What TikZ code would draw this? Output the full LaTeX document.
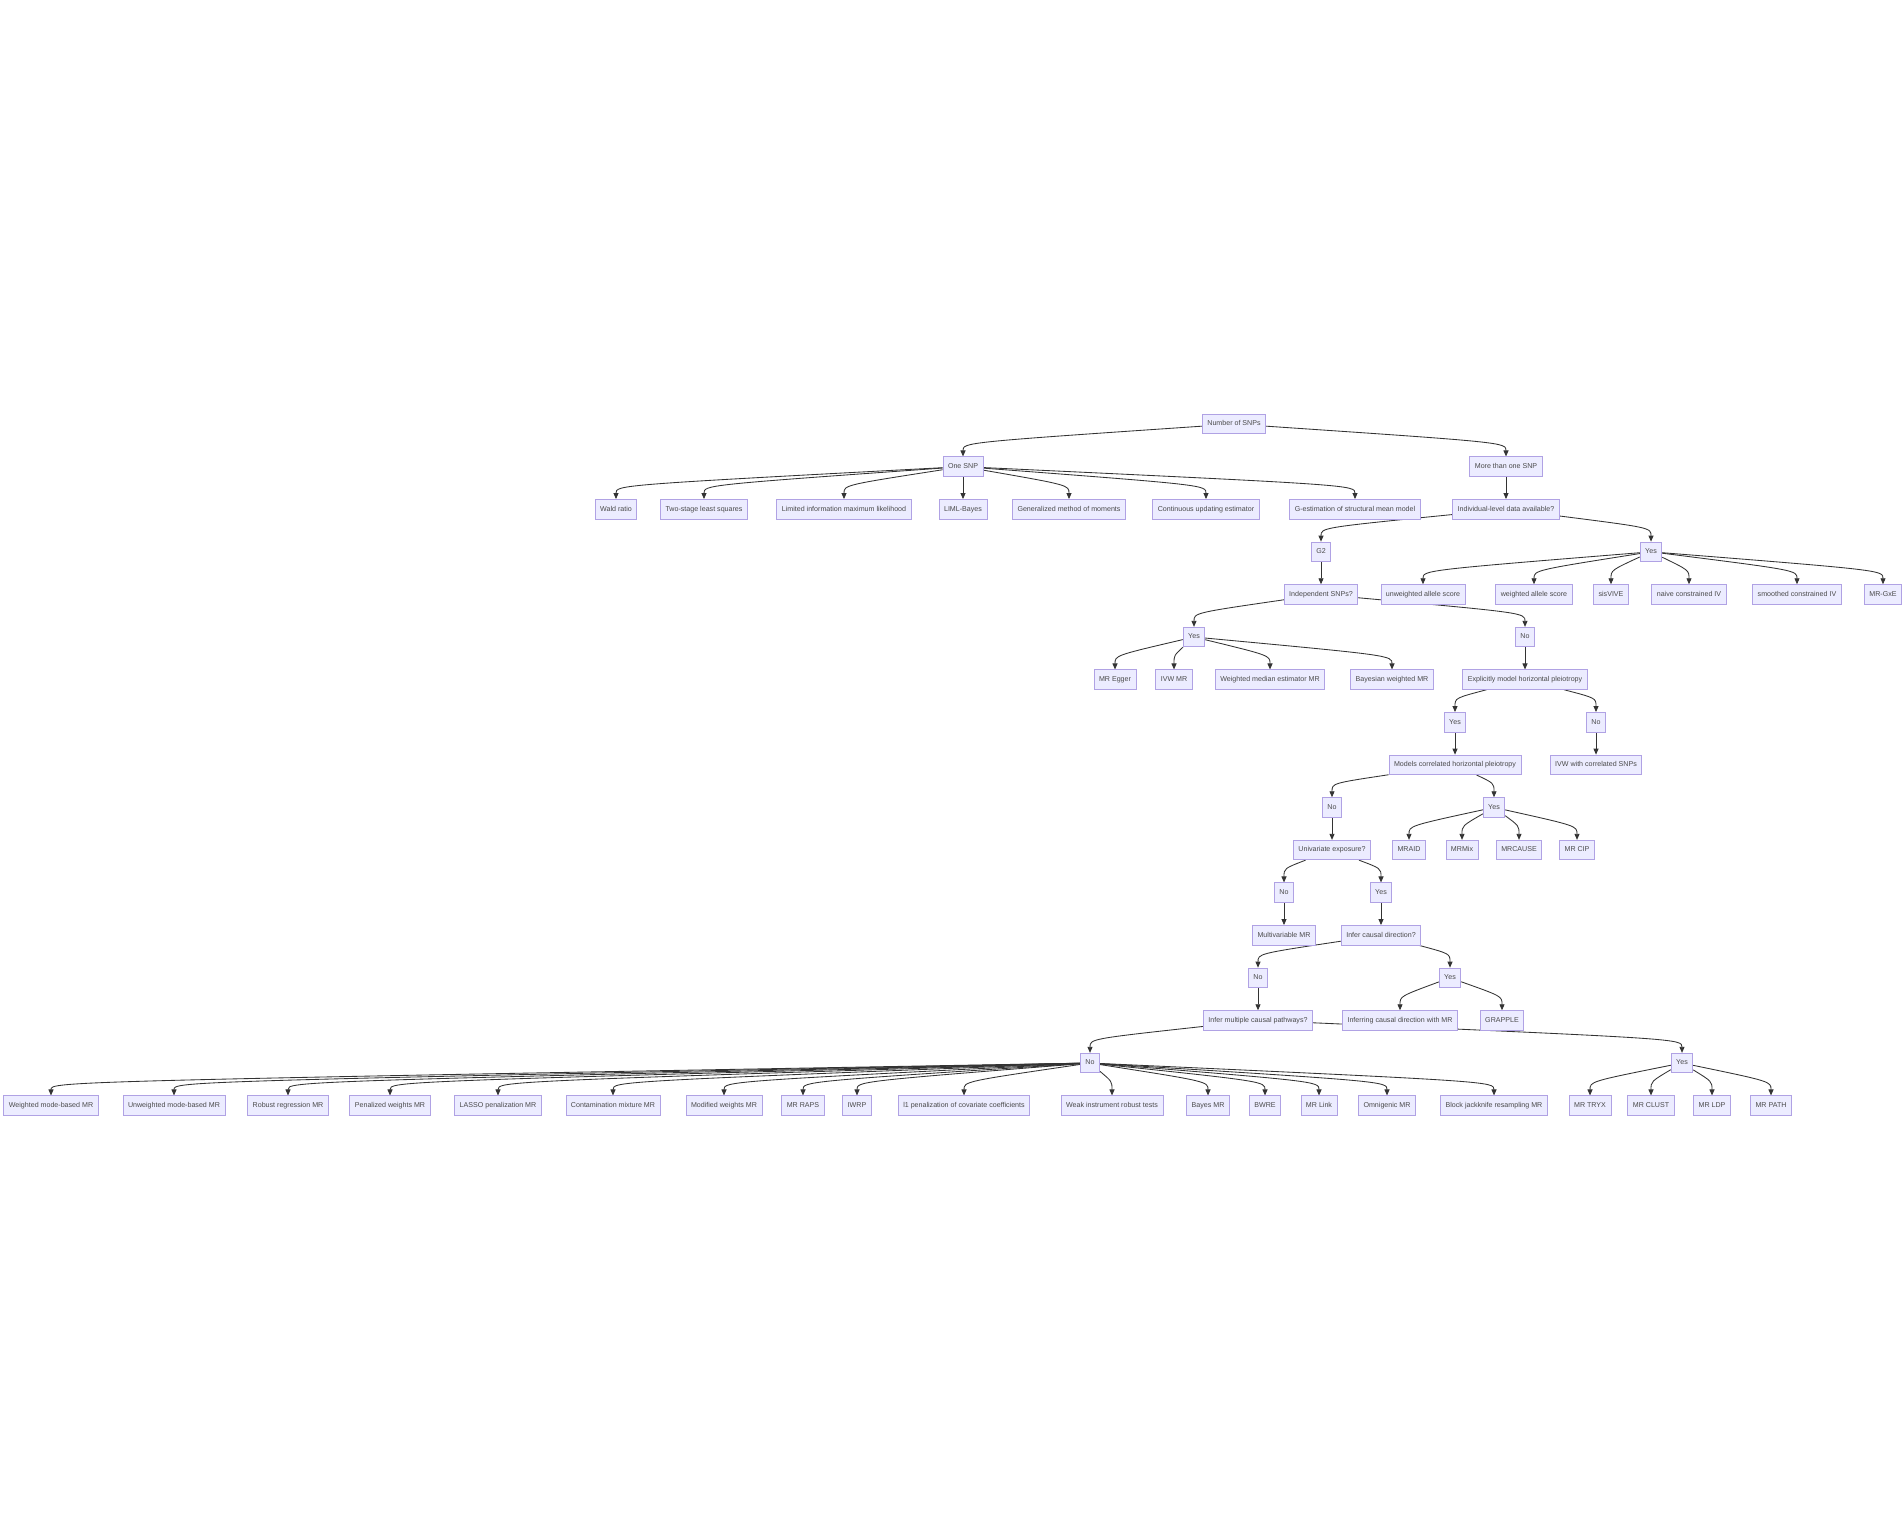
\documentclass[tikz,border=0pt]{standalone}
\usepackage{fontspec}
\setmainfont{Liberation Sans}
\usetikzlibrary{arrows.meta,backgrounds}
\definecolor{boxfill}{HTML}{ECECFF}
\definecolor{boxline}{HTML}{B0A2E4}
\definecolor{linecol}{HTML}{333333}
\definecolor{txtcol}{HTML}{4A4A4A}

\begin{document}
\begin{tikzpicture}
  [x=1pt,y=-1pt,
   box/.style={draw=boxline,fill=boxfill,text=txtcol,line width=0.8pt,
     font=\fontsize{7.1}{8.5}\selectfont,inner xsep=5pt,minimum height=19.5pt,
     text height=5.2pt,text depth=1.5pt},
   arr/.style={draw=linecol,line width=0.85pt,-{Triangle[length=6pt,width=5pt]}}]
  \useasboundingbox (0,0) rectangle (1904,1530);
  % first levels
  \node at (1234,424) (snps) [box] {Number of SNPs};
  \node at (963,466.6) (one) [box] {One SNP};
  \node at (1506,466.6) (more) [box] {More than one SNP};
  \node at (616,509.2) (wald) [box] {Wald ratio};
  \node at (704,509.2) (tsls) [box] {Two-stage least squares};
  \node at (844,509.2) (liml) [box] {Limited information maximum likelihood};
  \node at (963,509.2) (limlb) [box] {LIML-Bayes};
  \node at (1069,509.2) (gmm) [box] {Generalized method of moments};
  \node at (1206,509.2) (cue) [box] {Continuous updating estimator};
  \node at (1355,509.2) (gest) [box] {G-estimation of structural mean model};
  \node at (1506,509.2) (indiv) [box] {Individual-level data available?};
  \node at (1321,551.8) (gtwo) [box] {G2};
  \node at (1651,551.8) (yind) [box] {Yes};
  \node at (1321,594.4) (indep) [box] {Independent SNPs?};
  \node at (1423,594.4) (uas) [box] {unweighted allele score};
  \node at (1534,594.4) (was) [box] {weighted allele score};
  \node at (1611,594.4) (sis) [box] {sisVIVE};
  \node at (1689,594.4) (nciv) [box] {naive constrained IV};
  \node at (1797,594.4) (sciv) [box] {smoothed constrained IV};
  \node at (1883,594.4) (gxe) [box] {MR-GxE};
  % independent SNPs
  \node at (1194,637) (yindep) [box] {Yes};
  \node at (1525,637) (nindep) [box] {No};
  \node at (1115,679.6) (egger) [box] {MR Egger};
  \node at (1174,679.6) (ivw) [box] {IVW MR};
  \node at (1270,679.6) (wme) [box] {Weighted median estimator MR};
  \node at (1392,679.6) (bwmr) [box] {Bayesian weighted MR};
  \node at (1525,679.6) (expl) [box] {Explicitly model horizontal pleiotropy};
  \node at (1455,722.2) (yexpl) [box] {Yes};
  \node at (1596,722.2) (nexpl) [box] {No};
  \node at (1455,764.8) (models) [box] {Models correlated horizontal pleiotropy};
  \node at (1596,764.8) (ivwc) [box] {IVW with correlated SNPs};
  \node at (1332,807.4) (nmod) [box] {No};
  \node at (1494,807.4) (ymod) [box] {Yes};
  \node at (1332,850) (univ) [box] {Univariate exposure?};
  \node at (1409,850) (mraid) [box] {MRAID};
  \node at (1462,850) (mrmix) [box] {MRMix};
  \node at (1519,850) (mrcause) [box] {MRCAUSE};
  \node at (1577,850) (mrcip) [box] {MR CIP};
  \node at (1284,892.6) (nuniv) [box] {No};
  \node at (1381,892.6) (yuniv) [box] {Yes};
  \node at (1284,935.2) (mvmr) [box] {Multivariable MR};
  \node at (1381,935.2) (infer) [box] {Infer causal direction?};
  \node at (1258,977.8) (ninf) [box] {No};
  \node at (1450,977.8) (yinf) [box] {Yes};
  \node at (1258,1020.4) (multi) [box] {Infer multiple causal pathways?};
  \node at (1400,1020.4) (icd) [box] {Inferring causal direction with MR};
  \node at (1502,1020.4) (grapple) [box] {GRAPPLE};
  \node at (1090,1063) (nmul) [box] {No};
  \node at (1682,1063) (ymul) [box] {Yes};
  % bottom row
  \node at (51,1105.6) (wmb) [box] {Weighted mode-based MR};
  \node at (174,1105.6) (umb) [box] {Unweighted mode-based MR};
  \node at (288,1105.6) (robust) [box] {Robust regression MR};
  \node at (390,1105.6) (penal) [box] {Penalized weights MR};
  \node at (498,1105.6) (lasso) [box] {LASSO penalization MR};
  \node at (613,1105.6) (conmix) [box] {Contamination mixture MR};
  \node at (724,1105.6) (modw) [box] {Modified weights MR};
  \node at (803,1105.6) (raps) [box] {MR RAPS};
  \node at (857,1105.6) (iwrp) [box] {IWRP};
  \node at (964,1105.6) (lone) [box] {l1 penalization of covariate coefficients};
  \node at (1112,1105.6) (weak) [box] {Weak instrument robust tests};
  \node at (1208,1105.6) (bayes) [box] {Bayes MR};
  \node at (1265,1105.6) (bwre) [box] {BWRE};
  \node at (1319,1105.6) (link) [box] {MR Link};
  \node at (1387,1105.6) (omni) [box] {Omnigenic MR};
  \node at (1494,1105.6) (jack) [box] {Block jackknife resampling MR};
  \node at (1590,1105.6) (tryx) [box] {MR TRYX};
  \node at (1651,1105.6) (clust) [box] {MR CLUST};
  \node at (1712,1105.6) (ldp) [box] {MR LDP};
  \node at (1771,1105.6) (path) [box] {MR PATH};
  % connectors
  \begin{scope}[on background layer]
    \fill [white] (0,0) rectangle (1904,1530);
    \foreach \p/\c in {snps/one,snps/more,
        one/wald,one/tsls,one/liml,one/limlb,one/gmm,one/cue,one/gest,
        more/indiv,indiv/gtwo,indiv/yind,
        yind/uas,yind/was,yind/sis,yind/nciv,yind/sciv,yind/gxe,
        gtwo/indep,indep/yindep,indep/nindep,
        yindep/egger,yindep/ivw,yindep/wme,yindep/bwmr,
        nindep/expl,expl/yexpl,expl/nexpl,yexpl/models,nexpl/ivwc,
        models/nmod,models/ymod,
        ymod/mraid,ymod/mrmix,ymod/mrcause,ymod/mrcip,
        nmod/univ,univ/nuniv,univ/yuniv,nuniv/mvmr,yuniv/infer,
        infer/ninf,infer/yinf,yinf/icd,yinf/grapple,
        ninf/multi,multi/nmul,multi/ymul,
        nmul/wmb,nmul/umb,nmul/robust,nmul/penal,nmul/lasso,nmul/conmix,
        nmul/modw,nmul/raps,nmul/iwrp,nmul/lone,nmul/weak,nmul/bayes,
        nmul/bwre,nmul/link,nmul/omni,nmul/jack,
        ymul/tryx,ymul/clust,ymul/ldp,ymul/path}
      \draw [arr] (\p) .. controls ([yshift=14pt]\c.north) .. (\c.north);
  \end{scope}
\end{tikzpicture}
\end{document}
